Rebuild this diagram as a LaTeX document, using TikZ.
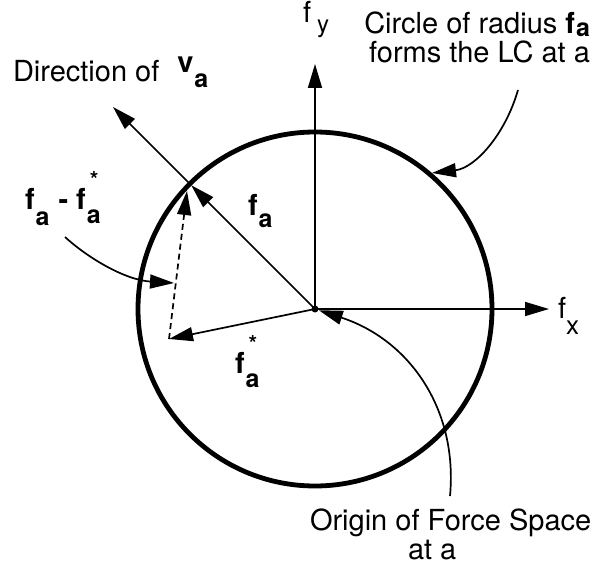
\documentclass[tikz,border=0pt]{standalone}
\usepackage{fontspec}
\setmainfont{TeX Gyre Heros}
\usetikzlibrary{arrows.meta}
\newcommand\mainsz{\fontsize{29}{29}\selectfont}
\newcommand\subsz{\fontsize{25}{25}\selectfont}
\newcommand\starsz{\fontsize{22}{22}\selectfont}
\newcommand\fsubb[1][-13pt]{\textbf{f}\kern1pt\raisebox{#1}{\subsz\textbf{a}}}
\newcommand\fstarb{\textbf{f}\kern1pt\rlap{\raisebox{22pt}{\kern3pt\starsz\textbf{*}}}\raisebox{-14pt}{\subsz\textbf{a}}}
\begin{document}
\begin{tikzpicture}[x=1pt,y=-1pt,
  thin line/.style={line width=1.7pt},
  vec/.style={thin line,-{Triangle[length=24pt,width=14pt]}},
  lbl/.style={inner sep=0pt,outer sep=0pt,font=\mainsz}]
\useasboundingbox (0,0) rectangle (595,583);
% circle (limit curve)
\node[draw,circle,line width=4.8pt,minimum size=354pt,inner sep=0pt,outer sep=0pt] (circ) at (315,309) {};
\coordinate (O) at (315,309);
\coordinate (P) at (circ.135);
\coordinate (D) at (113,107);
\coordinate (S) at (169,339);
\coordinate (Pd) at (187,191);
\coordinate (Y) at (315,64);
\coordinate (X) at (549,309);
% axes
\draw[vec] (O) -- (Y);
\draw[vec] (O) -- (X);
% vectors
\draw[vec,shorten >=2pt] (O) -- (P);
\draw[vec] (P) -- (D);
\draw[vec] (O) -- (S);
\draw[vec,dash pattern=on 6pt off 4pt] (S) -- (Pd);
\fill (O) circle (3.5pt);
% labels
\node[lbl,anchor=base west] (fy) at (303,23) {f\kern6pt\raisebox{-10pt}{\fontsize{24}{24}\selectfont y}};
\node[lbl,anchor=base west] (fx) at (558,318) {f\raisebox{-17pt}{\fontsize{26}{26}\selectfont x}};
\node[lbl,anchor=base west] (dir) at (13,82) {Direction of\hspace{18pt}\raisebox{9pt}{\textbf{v}\kern1pt\raisebox{-15pt}{\subsz\textbf{a}}}};
\node[lbl,anchor=north east,align=right] (lc) at (590,12) {Circle of radius \fsubb[-3pt]\\forms the LC at a};
\node[lbl,anchor=base west] (fa) at (248,215) {\fsubb};
\node[lbl,anchor=base west] (fas) at (235,373) {\fstarb};
\node[lbl,anchor=base west] (diff) at (25,210) {\fsubb[-16pt]\hspace{9pt}\textbf{-}\hspace{8pt}\fstarb};
\node[lbl,anchor=north west,align=left] (orig) at (310,509) {Origin of Force Space\\\hspace*{98pt}at a};
% pointer curves
\coordinate (c1) at (518,90);
\coordinate (t1) at (432,173);
\draw[vec] (c1) .. controls (505,135) and (475,168) .. (t1);
\coordinate (c2) at (65,237);
\coordinate (t2) at (174,283);
\draw[vec] (c2) .. controls (88,258) and (125,280) .. (t2);
\coordinate (c3) at (450,496);
\draw[vec,shorten >=4pt] (c3) .. controls (458,410) and (410,340) .. (O);
\end{tikzpicture}
\end{document}
